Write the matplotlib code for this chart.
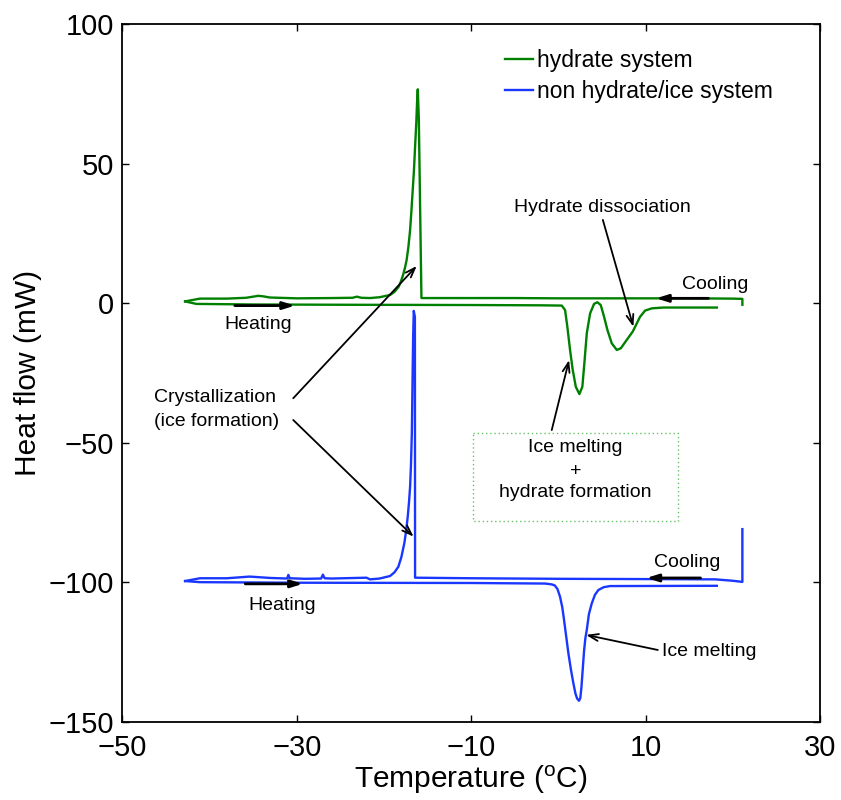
import matplotlib
matplotlib.use("Agg")
import matplotlib.pyplot as plt

plt.rcParams['font.family'] = ['Liberation Sans', 'DejaVu Sans']
plt.rcParams['mathtext.fontset'] = 'custom'
plt.rcParams['mathtext.rm'] = 'Liberation Sans'
plt.rcParams['mathtext.it'] = 'Liberation Sans:italic'

GREEN = '#008000'
BLUE = '#1937ff'

# ---------------- data ----------------
# hydrate system, cooling run (right to left)
green_cool_T = [21.1, 21.1, 20.0, 15.0, 10.0, 5.0, 0.0, -5.0, -10.0, -15.0, -15.7,
                -16.0, -16.12, -16.2, -16.3, -16.43, -16.55, -16.7, -16.85, -17.0,
                -17.2, -17.4, -17.6, -17.8, -18.05, -18.3, -18.8, -19.3, -20.5,
                -21.6, -22.6, -23.1, -23.6, -26.0, -30.0, -33.1, -33.8, -34.4,
                -35.0, -35.8, -38.0, -41.1, -42.8]
green_cool_HF = [-0.6, 1.5, 1.6, 1.7, 1.7, 1.7, 1.7, 1.8, 1.8, 1.8, 1.8,
                 66.0, 76.6, 72.0, 64.0, 56.0, 48.0, 40.5, 33.0, 26.2,
                 20.0, 15.4, 12.5, 10.1, 7.8, 5.9, 4.0, 2.9, 2.1,
                 1.8, 1.9, 2.3, 1.9, 1.8, 1.7, 2.0, 2.4, 2.6,
                 2.3, 1.9, 1.6, 1.6, 0.6]
# hydrate system, heating run
green_heat_T = [-42.8, -41.5, -35.0, -25.0, -10.0, -2.0, 0.39, 0.77, 1.03, 1.34,
                1.65, 2.0, 2.41, 2.75, 2.98, 3.26, 3.64, 4.09, 4.47, 4.86, 5.24,
                5.62, 6.12, 6.7, 7.16, 7.84, 8.53, 8.91, 9.37, 9.94, 10.7, 12.0,
                18.17]
green_heat_HF = [0.6, -0.3, -0.5, -0.6, -0.7, -0.8, -0.9, -2.5, -8.5, -16.8,
                 -24.0, -30.0, -32.6, -30.0, -21.6, -10.8, -3.7, -0.3, 0.3, -0.7, -4.9,
                 -9.6, -14.4, -16.8, -16.2, -13.2, -10.2, -7.8, -4.9, -2.7, -1.9, -1.6,
                 -1.6]

# non hydrate / ice system, cooling run (right to left)
blue_cool_T = [21.1, 21.1, 20.0, 18.0, 10.0, 0.0, -10.0, -16.43, -16.45, -16.58,
               -16.65, -16.7, -16.8, -16.9, -17.0, -17.13, -17.27, -17.45, -17.66,
               -18.0, -18.35, -18.8, -19.3, -20.5, -21.6, -22.0,
               -26.0, -26.8, -27.0, -27.2, -29.0, -30.8, -30.96, -31.1, -33.0,
               -35.4, -38.0, -41.1, -42.8]
blue_cool_HF = [-81.0, -99.9, -99.5, -99.0, -98.9, -98.8, -98.6, -98.4, -5.0, -2.8,
                -12.0, -22.8, -46.5, -58.0, -65.8, -71.5, -76.5, -81.5, -86.0,
                -91.0, -94.5, -96.5, -97.8, -98.7, -99.0, -98.4,
                -98.7, -98.6, -97.3, -98.7, -98.8, -98.6, -97.4, -98.7, -98.5,
                -98.0, -98.6, -98.6, -99.6]
# non hydrate / ice system, heating run
blue_heat_T = [-42.8, -41.1, -30.0, -10.0, -1.5, -0.76, -0.4, -0.1, 0.19, 0.45,
               0.65, 0.9, 1.15, 1.45, 1.72, 1.95, 2.15, 2.37, 2.52, 2.65, 2.8,
               2.95, 3.1, 3.26, 3.5, 3.83, 4.2, 4.59, 5.2, 5.93, 18.17]
blue_heat_HF = [-99.6, -100.0, -100.2, -100.3, -100.5, -100.8, -101.2, -102.5,
                -105.2, -109.0, -113.5, -119.5, -125.5, -131.5, -136.2, -139.8,
                -141.7, -142.5, -141.5, -137.5, -131.0, -124.5, -120.0, -117.1,
                -111.5, -107.6, -104.5, -102.8, -101.8, -101.4, -101.3]

x_ticks = [-50, -30, -10, 10, 30]
y_ticks = [-150, -100, -50, 0, 50, 100]
legend_labels = ['hydrate system', 'non hydrate/ice system']

# ---------------- figure ----------------
fig = plt.figure(figsize=(8.41, 8.0), dpi=100)
ax = fig.add_axes([122.3 / 841, (800 - 721.7) / 800, 697.7 / 841, 697.7 / 800])

lg, = ax.plot(green_cool_T, green_cool_HF, color=GREEN, lw=1.7, label=legend_labels[0])
ax.plot(green_heat_T, green_heat_HF, color=GREEN, lw=1.7)
lb, = ax.plot(blue_cool_T, blue_cool_HF, color=BLUE, lw=1.7, label=legend_labels[1])
ax.plot(blue_heat_T, blue_heat_HF, color=BLUE, lw=1.7)

ax.set_xlim(-50, 30)
ax.set_ylim(-150, 100)
ax.set_xticks(x_ticks)
ax.set_yticks(y_ticks)
ax.tick_params(direction='in', length=5, width=1, top=True, right=True,
               labelsize=21, pad=6)
ax.tick_params(axis='x', pad=9)
for sp in ax.spines.values():
    sp.set_linewidth(1.3)

ax.set_xlabel(r'Temperature ($^{\rm o}$C)', fontsize=21.5, labelpad=1)
ax.set_ylabel('Heat flow (mW)', fontsize=21.5, labelpad=5)

ax.legend(handles=[lg, lb], loc='upper left', bbox_to_anchor=(0.5485, 0.964),
          frameon=False, fontsize=16.5, handlelength=1.22, handletextpad=0.18,
          borderpad=0, borderaxespad=0, labelspacing=0.36)

# ---------------- annotations ----------------
fs = 14
bold_arrow = dict(arrowstyle='-|>,head_length=0.7,head_width=0.22', color='black',
                  lw=2.0, shrinkA=0, shrinkB=0)
thin_arrow2 = dict(arrowstyle='->,head_length=0.7,head_width=0.25', color='black',
                   lw=1.3, shrinkA=0, shrinkB=0)

# heating / cooling arrows
ax.annotate('', xy=(-30.2, -0.9), xytext=(-37.1, -0.9), arrowprops=bold_arrow)
ax.text(-34.4, -7.8, 'Heating', fontsize=fs, ha='center', va='center')
ax.annotate('', xy=(-29.3, -100.6), xytext=(-35.9, -100.6), arrowprops=bold_arrow)
ax.text(-31.7, -108.2, 'Heating', fontsize=fs, ha='center', va='center')
ax.annotate('', xy=(11.2, 1.7), xytext=(17.2, 1.7), arrowprops=bold_arrow)
ax.text(17.97, 6.5, 'Cooling', fontsize=fs, ha='center', va='center')
ax.annotate('', xy=(10.1, -98.5), xytext=(16.3, -98.5), arrowprops=bold_arrow)
ax.text(14.8, -93.0, 'Cooling', fontsize=fs, ha='center', va='center')

# hydrate dissociation
ax.text(5.0, 34.4, 'Hydrate dissociation', fontsize=fs, ha='center', va='center')
ax.annotate('', xy=(8.6, -8.5), xytext=(5.1, 29.8), arrowprops=thin_arrow2)

# ice melting (blue)
ax.text(11.86, -124.9, 'Ice melting', fontsize=fs, ha='left', va='center')
ax.annotate('', xy=(3.18, -118.9), xytext=(11.4, -124.3), arrowprops=thin_arrow2)

# ice melting + hydrate formation box
ax.plot([-9.78, 13.7, 13.7, -9.78, -9.78], [-46.4, -46.4, -78.1, -78.1, -46.4],
        color='#66c466', lw=1.0, ls=(0, (1, 2)))
ax.text(1.97, -51.9, 'Ice melting', fontsize=fs, ha='center', va='center')
ax.text(1.97, -60.4, '+', fontsize=fs, ha='center', va='center')
ax.text(1.97, -68.0, 'hydrate formation', fontsize=fs, ha='center', va='center')
ax.annotate('', xy=(1.23, -20.4), xytext=(-0.76, -45.5), arrowprops=thin_arrow2)

# crystallization
ax.text(-46.35, -34.0, 'Crystallization', fontsize=fs, ha='left', va='center')
ax.text(-46.35, -42.5, '(ice formation)', fontsize=fs, ha='left', va='center')
ax.annotate('', xy=(-16.24, 13.3), xytext=(-30.4, -34.1), arrowprops=thin_arrow2)
ax.annotate('', xy=(-16.6, -83.7), xytext=(-30.4, -41.9), arrowprops=thin_arrow2)

fig.savefig('out.png', dpi=100)
